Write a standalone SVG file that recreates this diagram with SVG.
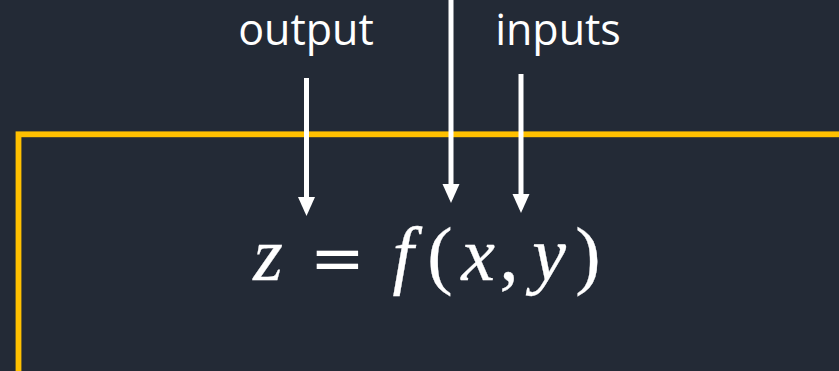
<svg xmlns="http://www.w3.org/2000/svg" width="839" height="371" viewBox="0 0 839 371">
<style>
.lbl{font-family:"Open Sans","Noto Sans",sans-serif;font-size:43px;fill:#fff;text-anchor:middle}
.eq{font-family:"Liberation Serif","DejaVu Serif",serif;font-size:76px;fill:#fff;stroke:#fff;stroke-width:0.3;text-anchor:middle}
.it{font-style:italic}
.arr{stroke:#fff;stroke-width:5;fill:none;marker-end:url(#ah)}
</style>
<defs>
<marker id="ah" markerUnits="userSpaceOnUse" markerWidth="20" markerHeight="18" viewBox="0 -9 20 18" refX="1" refY="0" orient="auto">
<path d="M0,-8.5 L19,0 L0,8.5 Z" fill="#fff"/>
</marker>
</defs>
<rect width="839" height="371" fill="#232a36"/>
<g id="box">
<rect x="18.5" y="134.3" width="840" height="300" fill="none" stroke="#ffc000" stroke-width="5.8"/>
</g>
<g id="labels">
<text class="lbl" x="306" y="45">output</text>
<text class="lbl" x="558" y="45">inputs</text>
</g>
<g id="equation">
<text class="eq it" x="268" y="280">z</text>
<text class="eq" x="337.5" y="280" style="font-family:'DejaVu Serif',serif;font-size:66px;stroke-width:0">=</text>
<text class="eq it" x="403" y="280">f</text>
<text class="eq" x="440" y="280">(</text>
<text class="eq it" x="478" y="280">x</text>
<text class="eq" x="509" y="280">,</text>
<text class="eq it" x="549" y="280">y</text>
<text class="eq" x="588" y="280">)</text>
</g>
<g id="connectors">
<line class="arr" x1="306.5" y1="78" x2="306.5" y2="198"/>
<line class="arr" x1="451" y1="0" x2="451" y2="185"/>
<line class="arr" x1="521" y1="74" x2="521" y2="195"/>
</g>
</svg>
